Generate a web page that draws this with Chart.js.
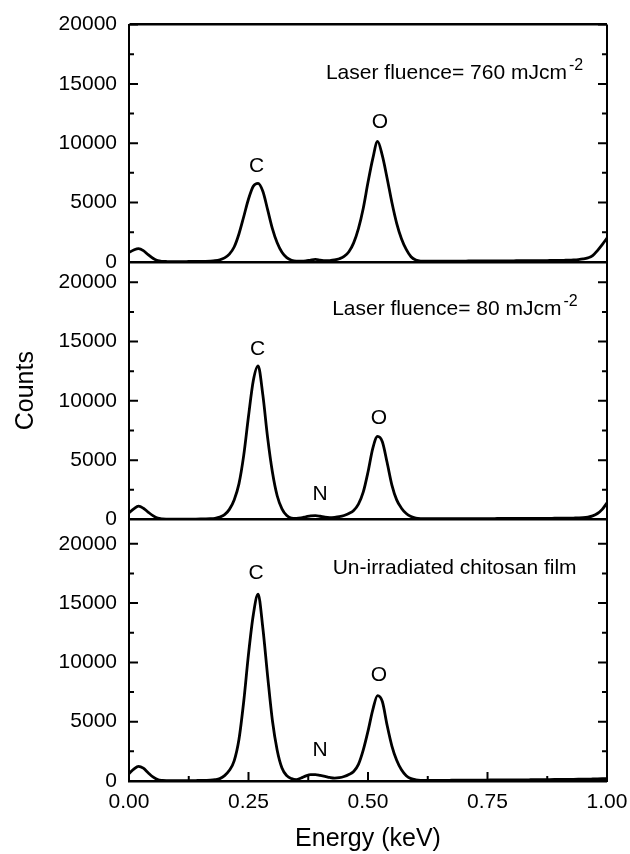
<!DOCTYPE html>
<html>
<head>
<meta charset="utf-8">
<script src="https://cdn.jsdelivr.net/npm/chart.js@4.4.0/dist/chart.umd.min.js"></script>
<style>
  html, body { margin: 0; padding: 0; background: #fff; }
  #wrap { width: 630px; height: 854px; }
</style>
</head>
<body>
<div id="wrap"><canvas id="edsChart" width="630" height="854"></canvas></div>
<script>
// energy grid (keV)
const energy = [
  0.00, 0.01, 0.02, 0.03, 0.04, 0.05, 0.06, 0.07, 0.08, 0.09,
  0.10, 0.11, 0.12, 0.13, 0.14, 0.15, 0.16, 0.17, 0.18, 0.19,
  0.20, 0.21, 0.22, 0.23, 0.24, 0.25, 0.26, 0.27, 0.28, 0.29,
  0.30, 0.31, 0.32, 0.33, 0.34, 0.35, 0.36, 0.37, 0.38, 0.39,
  0.40, 0.41, 0.42, 0.43, 0.44, 0.45, 0.46, 0.47, 0.48, 0.49,
  0.50, 0.51, 0.52, 0.53, 0.54, 0.55, 0.56, 0.57, 0.58, 0.59,
  0.60, 0.61, 0.62, 0.63, 0.64, 0.65, 0.66, 0.67, 0.68, 0.69,
  0.70, 0.71, 0.72, 0.73, 0.74, 0.75, 0.76, 0.77, 0.78, 0.79,
  0.80, 0.81, 0.82, 0.83, 0.84, 0.85, 0.86, 0.87, 0.88, 0.89,
  0.90, 0.91, 0.92, 0.93, 0.94, 0.95, 0.96, 0.97, 0.98, 0.99,
  1.00,
];

// top panel: 760 mJ/cm2
const counts760 = [
  780, 1000, 1120, 950, 600, 300, 100, 40, 25, 20,
  20, 25, 25, 30, 30, 35, 40, 55, 90, 170,
  330, 650, 1250, 2350, 3800, 5300, 6380, 6620, 5950, 4400,
  2800, 1600, 800, 350, 130, 60, 60, 80, 150, 200,
  150, 100, 110, 160, 260, 450, 850, 1600, 2800, 4500,
  6700, 8700, 10150, 8950, 7050, 5000, 3250, 1950, 1050, 430,
  150, 60, 50, 50, 55, 55, 60, 60, 60, 65,
  65, 70, 70, 70, 75, 75, 80, 80, 80, 85,
  85, 90, 90, 95, 95, 100, 100, 105, 110, 115,
  120, 130, 140, 160, 190, 240, 330, 520, 950, 1450,
  2000,
];

// middle panel: 80 mJ/cm2
const counts80 = [
  555, 900, 1120, 950, 620, 320, 110, 45, 30, 25,
  25, 25, 30, 30, 35, 40, 45, 60, 100, 200,
  400, 850, 1650, 3000, 5400, 8700, 11700, 12950, 10500, 6900,
  4000, 2000, 900, 330, 110, 90, 130, 220, 310, 330,
  270, 190, 160, 180, 230, 330, 500, 760, 1300, 2300,
  4000, 6000, 7000, 6550, 4800, 2900, 1650, 950, 500, 250,
  120, 70, 60, 60, 60, 60, 65, 65, 65, 70,
  70, 70, 70, 75, 75, 75, 75, 80, 80, 80,
  80, 85, 85, 85, 90, 90, 90, 95, 95, 100,
  100, 105, 110, 120, 130, 150, 200, 300, 500, 850,
  1400,
];

// bottom panel: un-irradiated film
const countsRaw = [
  620, 1000, 1240, 1080, 700, 350, 120, 50, 30, 25,
  25, 30, 30, 35, 40, 45, 55, 70, 110, 200,
  450, 900, 1700, 3500, 6700, 10700, 14000, 15750, 12900, 8850,
  5100, 2600, 1100, 450, 200, 120, 250, 430, 540, 540,
  470, 390, 300, 250, 280, 380, 550, 800, 1400, 2600,
  4200, 6000, 7200, 6700, 4700, 2950, 1750, 950, 450, 200,
  100, 60, 55, 55, 55, 60, 60, 60, 65, 65,
  70, 70, 75, 75, 80, 80, 85, 85, 90, 90,
  95, 95, 100, 100, 105, 110, 110, 115, 120, 125,
  130, 135, 140, 145, 150, 155, 160, 170, 180, 190,
  200,
];

const xTicks = [0, 0.25, 0.5, 0.75, 1];
const xMinorTicks = [0.125, 0.375, 0.625, 0.875];
const yTicks = [0, 5000, 10000, 15000, 20000];
const yMinorTicks = [2500, 7500, 12500, 17500];

const panelTitles = ["Laser fluence= 760 mJcm", "Laser fluence= 80 mJcm", "Un-irradiated chitosan film"];
const panelTitleSup = ["-2", "-2", ""];
const peakNames = ["C", "O", "N"];

const family = '"Liberation Sans", Arial, sans-serif';
Chart.defaults.font.family = family;
Chart.defaults.color = "#000";

const toPoints = (values) => energy.map((e, i) => ({ x: e, y: values[i] }));

// one stacked y axis per panel (the last defined one sits on top)
const panelAxis = (max, weight, extra = {}) => ({
  type: "linear",
  position: "left",
  stack: "panels",
  stackWeight: weight,
  min: 0,
  max: max,
  afterBuildTicks: (scale) => {
    scale.ticks = yTicks.map((v) => ({ value: v }));
  },
  afterFit: (scale) => {
    scale.width = 129;
  },
  ticks: {
    font: { size: 21 },
    padding: 12,
    callback: (v) => String(v),
  },
  grid: {
    drawTicks: false,
    lineWidth: 2.5,
    color: (ctx) =>
      ctx.tick.value === 0 || (ctx.scale.id === "y760" && ctx.tick.value === 20000)
        ? "#000"
        : "rgba(0,0,0,0)",
  },
  border: { display: true, color: "#000", width: 2 },
  ...extra,
});

const inwardTicks = {
  id: "inwardTicks",
  afterDatasetsDraw(chart) {
    const { ctx, chartArea } = chart;
    ctx.save();
    ctx.strokeStyle = "#000";
    ctx.lineWidth = 2;
    ["y760", "y80", "yRaw"].forEach((id) => {
      const scale = chart.scales[id];
      const mark = (values, len) =>
        values.forEach((v) => {
          if (v <= 0 || v > scale.max) return;
          const y = scale.getPixelForValue(v);
          ctx.beginPath();
          ctx.moveTo(chartArea.left, y);
          ctx.lineTo(chartArea.left + len, y);
          ctx.moveTo(chartArea.right, y);
          ctx.lineTo(chartArea.right - len, y);
          ctx.stroke();
        });
      mark(yTicks, 9);
      mark(yMinorTicks, 5);
    });
    const xs = chart.scales.x;
    const markX = (values, len) =>
      values.forEach((v) => {
        const x = xs.getPixelForValue(v);
        ctx.beginPath();
        ctx.moveTo(x, chartArea.bottom);
        ctx.lineTo(x, chartArea.bottom - len);
        ctx.stroke();
      });
    markX(xTicks.slice(1, -1), 9);
    markX(xMinorTicks, 5);
    ctx.restore();
  },
};

const peakText = {
  id: "peakText",
  afterDatasetsDraw(chart, args, opts) {
    const { ctx } = chart;
    const xs = chart.scales.x;
    ctx.save();
    ctx.fillStyle = "#000";
    ctx.textBaseline = "alphabetic";
    opts.items.forEach((item) => {
      const ys = chart.scales[item.axis];
      const px = xs.getPixelForValue(item.at[0]);
      const py = ys.getPixelForValue(item.at[1]);
      ctx.font = `21px ${family}`;
      ctx.textAlign = item.align || "center";
      ctx.fillText(item.text, px, py);
      if (item.sup) {
        const w = ctx.measureText(item.text).width;
        ctx.font = `16px ${family}`;
        ctx.textAlign = "left";
        ctx.fillText(item.sup, px + w + 2, py - 9);
      }
    });
    ctx.restore();
  },
};

const createChart = () => {
  const ctx = document.getElementById("edsChart").getContext("2d");
  const line = { borderColor: "#000", borderWidth: 2.8, pointRadius: 0, cubicInterpolationMode: "monotone" };
  new Chart(ctx, {
    type: "line",
    data: {
      datasets: [
        { ...line, data: toPoints(counts760), yAxisID: "y760" },
        { ...line, data: toPoints(counts80), yAxisID: "y80" },
        { ...line, data: toPoints(countsRaw), yAxisID: "yRaw" },
      ],
    },
    plugins: [inwardTicks, peakText],
    options: {
      responsive: false,
      animation: false,
      layout: { padding: { top: 23, right: 23, bottom: 0, left: 0 } },
      plugins: {
        legend: { display: false },
        tooltip: { enabled: false },
        peakText: {
          items: [
            { axis: "y760", text: panelTitles[0], sup: panelTitleSup[0], at: [0.412, 15380], align: "left" },
            { axis: "y80", text: panelTitles[1], sup: panelTitleSup[1], at: [0.425, 17260], align: "left" },
            { axis: "yRaw", text: panelTitles[2], sup: panelTitleSup[2], at: [0.426, 17480], align: "left" },
            { axis: "y760", text: peakNames[0], at: [0.267, 7580] },
            { axis: "y760", text: peakNames[1], at: [0.525, 11280] },
            { axis: "y80", text: peakNames[0], at: [0.269, 13830] },
            { axis: "y80", text: peakNames[2], at: [0.40, 1680] },
            { axis: "y80", text: peakNames[1], at: [0.523, 8050] },
            { axis: "yRaw", text: peakNames[0], at: [0.266, 17060] },
            { axis: "yRaw", text: peakNames[2], at: [0.40, 2100] },
            { axis: "yRaw", text: peakNames[1], at: [0.523, 8400] },
          ],
        },
      },
      scales: {
        x: {
          type: "linear",
          min: 0,
          max: 1,
          afterBuildTicks: (scale) => {
            scale.ticks = xTicks.map((v) => ({ value: v }));
          },
          afterFit: (scale) => {
            scale.height = 73;
            scale.paddingLeft = 0;
            scale.paddingRight = 0;
          },
          ticks: {
            font: { size: 21 },
            padding: 9,
            maxRotation: 0,
            callback: (v) => Number(v).toFixed(2),
          },
          grid: {
            drawTicks: false,
            lineWidth: 2,
            color: (ctx) => (ctx.tick.value === 1 ? "#000" : "rgba(0,0,0,0)"),
          },
          border: { display: true, color: "#000", width: 2 },
          title: {
            display: true,
            text: "Energy (keV)",
            font: { size: 25 },
            padding: { top: 0, bottom: 0 },
          },
        },
        yRaw: panelAxis(22050, 22050),
        y80: panelAxis(21720, 21720, {
          title: {
            display: true,
            text: "Counts",
            font: { size: 25 },
            padding: { top: 11, bottom: 0 },
          },
        }),
        y760: panelAxis(20000, 20000),
      },
    },
  });
};

document.addEventListener("DOMContentLoaded", () => {
  createChart();
});
</script>
</body>
</html>
